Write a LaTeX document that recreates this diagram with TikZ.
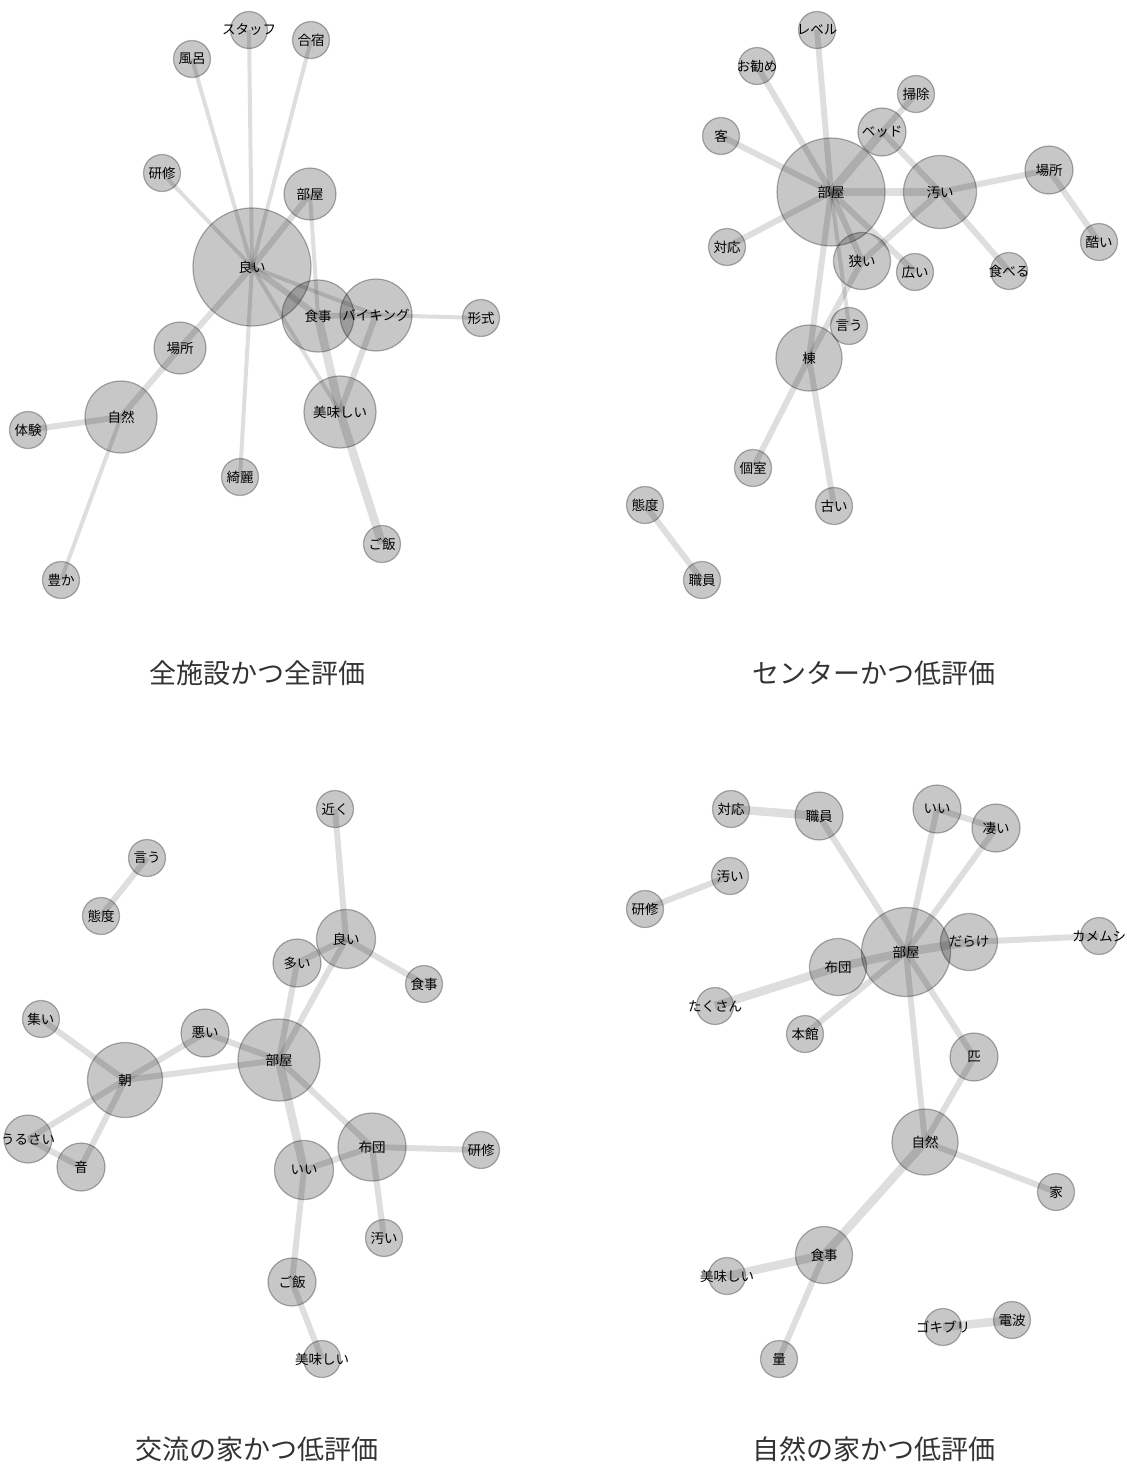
\documentclass[tikz,border=0pt]{standalone}
\usepackage{fontspec}
\newfontfamily\jpfont{Noto Sans CJK JP}
\usetikzlibrary{positioning}
\tikzset{
  word/.style={circle, inner sep=0pt, fill=black, fill opacity=0.22,
    draw=black, draw opacity=0.3, line width=1.2pt, text opacity=1,
    minimum size=37pt, font=\jpfont\fontsize{13.5}{16}\selectfont,
    % label may run past the circle, as in the original
    execute at begin node={\setbox0=\hbox\bgroup},
    execute at end node={\egroup\makebox[0pt]{\box0}}},
  wordm/.style={word, minimum size=48pt},
  wordl/.style={word, minimum size=57pt},
  wordx/.style={word, minimum size=72pt},
  lnkA/.style={draw=black, draw opacity=0.13, line width=4pt},
  lnkB/.style={draw=black, draw opacity=0.13, line width=6pt},
  lnkC/.style={draw=black, draw opacity=0.13, line width=8.5pt},
  caption/.style={font=\jpfont\fontsize{27}{32}\selectfont, text=black!80},
}

\begin{document}
\begin{tikzpicture}[x=1pt, y=-1pt]
  \useasboundingbox (0,0) rectangle (1127,1465);

  % All facilities, all ratings
  \node[word] (aStaff) at (249,30) {スタッフ};
  \node[word] (aGasshuku) at (311,40) {合宿};
  \node[word] (aFuro) at (192,59) {風呂};
  \node[word] (aKenshu) at (162,173) {研修};
  \node[word, minimum size=52pt] (aHeya) at (310,194) {部屋};
  \node[word, minimum size=118pt] (aYoi) at (252,267) {良い};
  \node[wordx] (aShokuji) at (318,316) {食事};
  \node[wordx] (aViking) at (376,315) {バイキング};
  \node[word] (aKeishiki) at (481,318) {形式};
  \node[word, minimum size=52pt] (aBasho) at (180,348) {場所};
  \node[wordx] (aShizen) at (121,417) {自然};
  \node[word] (aTaiken) at (28,430) {体験};
  \node[wordx] (aOishii) at (340,412) {美味しい};
  \node[word] (aKirei) at (240,477) {綺麗};
  \node[word] (aGohan) at (382,544) {ご飯};
  \node[word] (aYutaka) at (61,580) {豊か};

  \draw[lnkA] (aYoi.center) -- (aStaff.center);
  \draw[lnkA] (aYoi.center) -- (aGasshuku.center);
  \draw[lnkA] (aYoi.center) -- (aFuro.center);
  \draw[lnkA] (aYoi.center) -- (aKenshu.center);
  \draw[lnkA] (aYoi.center) -- (aKirei.center);
  \draw[lnkB] (aYoi.center) -- (aHeya.center);
  \draw[lnkB] (aYoi.center) -- (aBasho.center);
  \draw[lnkB] (aYoi.center) -- (aShokuji.center);
  \draw[lnkA] (aYoi.center) -- (aViking.center);
  \draw[lnkA] (aYoi.center) -- (aOishii.center);
  \draw[lnkA] (aHeya.center) -- (aShokuji.center);
  \draw[lnkB] (aShokuji.center) -- (aViking.center);
  \draw[lnkA] (aViking.center) -- (aKeishiki.center);
  \draw[lnkB] (aViking.center) -- (aOishii.center);
  \draw[lnkC] (aShokuji.center) -- (aOishii.center);
  \draw[lnkC] (aOishii.center) -- (aGohan.center);
  \draw[lnkB] (aBasho.center) -- (aShizen.center);
  \draw[lnkB] (aShizen.center) -- (aTaiken.center);
  \draw[lnkA] (aShizen.center) -- (aYutaka.center);

  \node[caption] at (257,673) {全施設かつ全評価};

  % Center, low ratings
  \node[word] (bLevel) at (817,30) {レベル};
  \node[word] (bOsusume) at (757,66) {お勧め};
  \node[word] (bSouji) at (916,94) {掃除};
  \node[wordm] (bBed) at (882,132) {ベッド};
  \node[word] (bKyaku) at (721,136) {客};
  \node[word, minimum size=108pt] (bHeya) at (831,192) {部屋};
  \node[word, minimum size=73pt] (bKitanai) at (940,192) {汚い};
  \node[wordm] (bBasho) at (1049,170) {場所};
  \node[word] (bHidoi) at (1099,242) {酷い};
  \node[word] (bTaiou) at (727,247) {対応};
  \node[wordl] (bSemai) at (862,261) {狭い};
  \node[word] (bHiroi) at (915,272) {広い};
  \node[word] (bTaberu) at (1009,271) {食べる};
  \node[word] (bIu) at (849,326) {言う};
  \node[word, minimum size=66pt] (bTou) at (809,358) {棟};
  \node[word] (bKoshitsu) at (753,468) {個室};
  \node[word] (bFurui) at (834,506) {古い};
  \node[word] (bTaido) at (645,505) {態度};
  \node[word] (bShokuin) at (702,580) {職員};

  \draw[lnkB] (bHeya.center) -- (bLevel.center);
  \draw[lnkB] (bHeya.center) -- (bOsusume.center);
  \draw[lnkB] (bHeya.center) -- (bKyaku.center);
  \draw[lnkB] (bHeya.center) -- (bTaiou.center);
  \draw[lnkC] (bHeya.center) -- (bBed.center);
  \draw[lnkB] (bBed.center) -- (bSouji.center);
  \draw[lnkB] (bBed.center) -- (bKitanai.center);
  \draw[lnkC] (bHeya.center) -- (bKitanai.center);
  \draw[lnkB] (bKitanai.center) -- (bBasho.center);
  \draw[lnkB] (bBasho.center) -- (bHidoi.center);
  \draw[lnkB] (bKitanai.center) -- (bTaberu.center);
  \draw[lnkB] (bKitanai.center) -- (bSemai.center);
  \draw[lnkB] (bHeya.center) -- (bSemai.center);
  \draw[lnkB] (bHeya.center) -- (bHiroi.center);
  \draw[lnkA] (bHeya.center) -- (bIu.center);
  \draw[lnkB] (bHeya.center) -- (bTou.center);
  \draw[lnkB] (bSemai.center) -- (bTou.center);
  \draw[lnkB] (bTou.center) -- (bKoshitsu.center);
  \draw[lnkB] (bTou.center) -- (bFurui.center);
  \draw[lnkB] (bTaido.center) -- (bShokuin.center);

  \node[caption] at (874,673) {センターかつ低評価};

  % Exchange house, low ratings
  \node[word] (cChikaku) at (335,809) {近く};
  \node[word] (cIu) at (147,858) {言う};
  \node[word] (cTaido) at (101,916) {態度};
  \node[word, minimum size=59pt] (cYoi) at (346,939) {良い};
  \node[wordm] (cOoi) at (297,963) {多い};
  \node[word] (cShokuji) at (424,984) {食事};
  \node[word] (cTsudoi) at (41,1019) {集い};
  \node[wordm] (cWarui) at (205,1033) {悪い};
  \node[word, minimum size=82pt] (cHeya) at (279,1060) {部屋};
  \node[word, minimum size=75pt] (cAsa) at (125,1080) {朝};
  \node[wordm] (cUrusai) at (28,1139) {うるさい};
  \node[wordm] (cOto) at (81,1167) {音};
  \node[word, minimum size=68pt] (cFuton) at (372,1147) {布団};
  \node[word] (cKenshu) at (481,1150) {研修};
  \node[word, minimum size=59pt] (cIi) at (304,1170) {いい};
  \node[word] (cKitanai) at (384,1238) {汚い};
  \node[wordm] (cGohan) at (292,1282) {ご飯};
  \node[word] (cOishii) at (322,1359) {美味しい};

  \draw[lnkB] (cChikaku.center) -- (cYoi.center);
  \draw[lnkB] (cIu.center) -- (cTaido.center);
  \draw[lnkB] (cYoi.center) -- (cOoi.center);
  \draw[lnkB] (cYoi.center) -- (cShokuji.center);
  \draw[lnkB] (cYoi.center) -- (cHeya.center);
  \draw[lnkB] (cOoi.center) -- (cHeya.center);
  \draw[lnkB] (cWarui.center) -- (cHeya.center);
  \draw[lnkB] (cWarui.center) -- (cAsa.center);
  \draw[lnkB] (cAsa.center) -- (cHeya.center);
  \draw[lnkB] (cAsa.center) -- (cTsudoi.center);
  \draw[lnkB] (cAsa.center) -- (cUrusai.center);
  \draw[lnkB] (cAsa.center) -- (cOto.center);
  \draw[lnkB] (cUrusai.center) -- (cOto.center);
  \draw[lnkB] (cHeya.center) -- (cFuton.center);
  \draw[lnkC] (cHeya.center) -- (cIi.center);
  \draw[lnkB] (cIi.center) -- (cFuton.center);
  \draw[lnkB] (cIi.center) -- (cGohan.center);
  \draw[lnkB] (cFuton.center) -- (cKenshu.center);
  \draw[lnkB] (cFuton.center) -- (cKitanai.center);
  \draw[lnkB] (cGohan.center) -- (cOishii.center);

  \node[caption] at (257,1449) {交流の家かつ低評価};

  % Nature house, low ratings
  \node[word] (dTaiou) at (731,809) {対応};
  \node[wordm] (dShokuin) at (819,816) {職員};
  \node[wordm] (dIi) at (937,809) {いい};
  \node[wordm] (dSugoi) at (996,828) {凄い};
  \node[word] (dKitanai) at (730,876) {汚い};
  \node[word] (dKenshu) at (645,909) {研修};
  \node[word, minimum size=89pt] (dHeya) at (906,952) {部屋};
  \node[wordl] (dDarake) at (969,942) {だらけ};
  \node[word] (dKamemushi) at (1099,936) {カメムシ};
  \node[wordl] (dFuton) at (838,967) {布団};
  \node[word] (dTakusan) at (715,1006) {たくさん};
  \node[word] (dHonkan) at (805,1034) {本館};
  \node[wordm] (dHiki) at (974,1057) {匹};
  \node[word, minimum size=66pt] (dShizen) at (925,1142) {自然};
  \node[word] (dIe) at (1056,1192) {家};
  \node[wordl] (dShokuji) at (824,1255) {食事};
  \node[word] (dOishii) at (727,1276) {美味しい};
  \node[word] (dRyou) at (779,1359) {量};
  \node[word] (dGokiburi) at (943,1327) {ゴキブリ};
  \node[word] (dDenpa) at (1012,1320) {電波};

  \draw[lnkC] (dTaiou.center) -- (dShokuin.center);
  \draw[lnkB] (dShokuin.center) -- (dHeya.center);
  \draw[lnkB] (dIi.center) -- (dHeya.center);
  \draw[lnkB] (dIi.center) -- (dSugoi.center);
  \draw[lnkB] (dSugoi.center) -- (dHeya.center);
  \draw[lnkB] (dKitanai.center) -- (dKenshu.center);
  \draw[lnkC] (dHeya.center) -- (dDarake.center);
  \draw[lnkC] (dFuton.center) -- (dHeya.center);
  \draw[lnkB] (dDarake.center) -- (dKamemushi.center);
  \draw[lnkC] (dFuton.center) -- (dTakusan.center);
  \draw[lnkB] (dHeya.center) -- (dHonkan.center);
  \draw[lnkB] (dHeya.center) -- (dHiki.center);
  \draw[lnkB] (dHeya.center) -- (dShizen.center);
  \draw[lnkB] (dHiki.center) -- (dShizen.center);
  \draw[lnkB] (dShizen.center) -- (dIe.center);
  \draw[lnkC] (dShizen.center) -- (dShokuji.center);
  \draw[lnkC] (dShokuji.center) -- (dOishii.center);
  \draw[lnkB] (dShokuji.center) -- (dRyou.center);
  \draw[lnkC] (dGokiburi.center) -- (dDenpa.center);

  \node[caption] at (874,1449) {自然の家かつ低評価};
\end{tikzpicture}
\end{document}
